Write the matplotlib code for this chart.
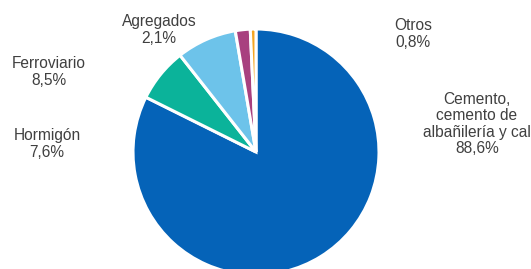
import matplotlib
matplotlib.use("Agg")
import matplotlib.pyplot as plt

# data, in clockwise order starting at 12 o'clock
labels = ["Cemento,\ncemento de\nalbañilería y cal", "Hormigón", "Ferroviario", "Agregados", "Otros"]
values = [88.6, 7.6, 8.5, 2.1, 0.8]
pct_text = ["88,6%", "7,6%", "8,5%", "2,1%", "0,8%"]
colors = ["#0563B8", "#0BB39A", "#6DC3EA", "#A8407F", "#F5A623"]

# label block centres in pixels (from top-left)
label_pos = [(477, 124), (47, 144), (49, 72), (159, 30), (413, 34)]

W, H = 531, 269
fig = plt.figure(figsize=(W / 100, H / 100), dpi=100)

# pie centre and radius in pixels
cx, cy, r = 256, 152, 123
ax = fig.add_axes([(cx - r) / W, (H - cy - r) / H, 2 * r / W, 2 * r / H])
ax.pie(values, colors=colors, startangle=90, counterclock=False, radius=1,
       wedgeprops=dict(edgecolor="white", linewidth=2.2))
ax.set_xlim(-1, 1)
ax.set_ylim(-1, 1)
ax.set_aspect("equal")
ax.axis("off")

for lab, pct, (x, y) in zip(labels, pct_text, label_pos):
    fig.text(x / W, 1 - y / H, lab + "\n" + pct, ha="center", va="center",
             fontsize=11.2, color="#404040", family="Liberation Sans",
             linespacing=1.12)

fig.savefig("out.png", dpi=100)
